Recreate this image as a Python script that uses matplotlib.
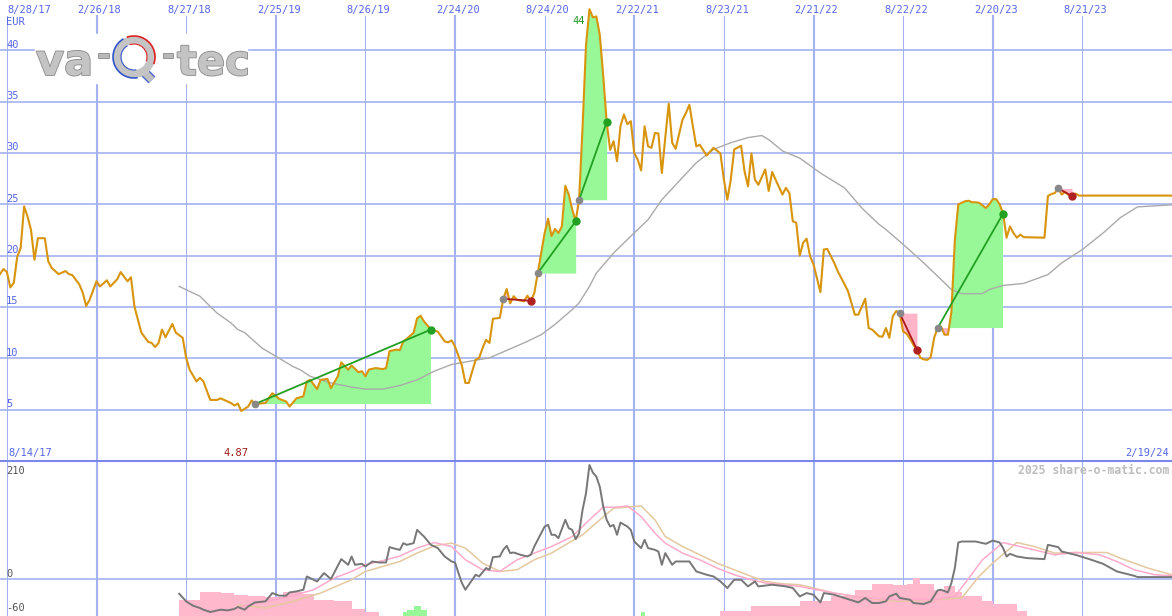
import numpy as np
import matplotlib
matplotlib.use('Agg')
import matplotlib.pyplot as plt
import matplotlib.dates as mdates
import matplotlib.patheffects as pe
from matplotlib import transforms
from matplotlib.patches import Rectangle, Wedge, Arc

# weekly data, week 0 = 2017-08-14
start = np.datetime64('2017-08-14')
end = np.datetime64('2024-02-19')

price_weeks = [0, 1, 2, 3, 4, 5, 6, 7, 8, 9, 10, 11, 13, 14, 15, 17, 19, 20, 21, 23, 24, 25, 26, 28, 29,
               31, 32, 34, 35, 37, 38, 39, 41, 43, 44, 45, 46, 47, 48, 50, 51, 53, 54, 55, 57, 58, 59,
               61, 63, 64, 67, 68, 69, 70, 72, 73, 74, 77, 79, 81, 83, 84, 86, 88, 89, 90, 92, 93, 95,
               96, 98, 99, 101, 102, 104, 105, 106, 107, 109, 111, 112, 113, 115, 116, 117, 118, 120,
               121, 122, 123, 125, 127, 129, 130, 131, 132, 134, 135, 136, 137, 138, 139, 140, 141, 142,
               143, 145, 146, 147, 148, 149, 150, 152, 153, 154, 155, 156, 158, 159, 160, 161, 162, 163,
               164, 165, 166, 167, 168, 169, 170, 171, 172, 173, 174, 175, 176, 177, 178, 179, 180, 181,
               182, 183, 184, 185, 186, 187, 188, 189, 190, 191, 192, 193, 194, 195, 196, 198, 199, 200,
               201, 202, 203, 205, 207, 209, 210, 211, 212, 213, 215, 216, 217, 218, 219, 220, 222, 223,
               224, 225, 227, 228, 229, 230, 231, 232, 233, 234, 235, 236, 238, 239, 240, 242, 243, 246,
               248, 249, 251, 252, 253, 255, 256, 257, 258, 259, 260, 261, 262, 263, 264, 265, 266, 267,
               268, 269, 270, 271, 272, 273, 274, 275, 276, 277, 278, 279, 280, 281, 282, 283, 284, 285,
               286, 287, 288, 289, 290, 291, 292, 293, 294, 295, 296, 297, 303, 304, 305, 306, 307, 308,
               309, 310, 311, 312, 313, 340]
price_eur = [18.2, 18.7, 18.4, 16.9, 17.35, 19.9, 20.75, 24.8, 23.8, 22.5, 19.6, 21.7, 21.7, 19.45, 18.8,
             18.2, 18.5, 18.2, 18.1, 17.2, 16.4, 15.1, 15.7, 17.5, 17.0, 17.6, 17.0, 17.7, 18.4, 17.5,
             17.9, 15.05, 12.5, 11.6, 11.5, 11.1, 11.5, 12.8, 12.05, 13.35, 12.5, 12.0, 10.05, 8.9, 7.75,
             8.1, 7.75, 5.95, 5.95, 6.1, 5.65, 5.4, 5.6, 4.87, 5.3, 5.9, 5.55, 5.65, 6.6, 6.05, 5.8, 5.3,
             6.1, 6.3, 7.75, 7.9, 7.0, 7.9, 8.0, 7.1, 8.25, 9.6, 8.9, 9.3, 8.65, 8.75, 8.25, 8.9, 9.05,
             8.95, 9.05, 10.7, 10.85, 10.8, 11.65, 11.9, 12.5, 13.9, 14.15, 13.6, 12.8, 12.6, 11.65,
             11.55, 11.75, 11.15, 9.3, 7.6, 7.6, 8.75, 9.85, 10.05, 11.0, 11.8, 11.5, 13.85, 13.95, 15.8,
             16.75, 15.35, 16.05, 15.7, 15.55, 16.1, 15.6, 16.35, 18.3, 22.2, 23.6, 21.9, 22.6, 22.2,
             22.85, 26.8, 25.95, 24.5, 23.35, 25.45, 32.5, 40.5, 44.0, 43.2, 43.3, 41.5, 37.5, 33.0, 30.3,
             31.15, 29.2, 32.6, 33.75, 32.8, 33.1, 30.0, 29.35, 28.3, 32.6, 30.65, 30.5, 31.95, 31.9,
             28.05, 31.5, 34.8, 31.0, 30.4, 33.25, 33.9, 34.7, 32.6, 30.65, 30.8, 29.75, 30.5, 29.95,
             27.4, 25.45, 27.4, 30.35, 30.7, 28.2, 26.75, 29.95, 27.4, 26.9, 28.4, 26.3, 28.15, 27.4,
             25.95, 26.6, 26.1, 23.35, 23.2, 20.0, 21.25, 21.65, 19.95, 19.15, 16.45, 20.6, 20.65, 19.3,
             18.5, 16.55, 14.25, 14.25, 15.8, 12.95, 12.8, 12.15, 12.1, 12.95, 12.0, 14.1, 14.6, 14.4,
             12.6, 12.4, 11.9, 11.3, 10.85, 10.05, 9.9, 9.85, 10.1, 12.0, 12.95, 13.1, 12.3, 12.3, 14.5,
             21.5, 25.0, 25.15, 25.3, 25.35, 25.2, 25.2, 25.15, 24.9, 24.65, 25.0, 25.5, 25.5, 25.0, 24.1,
             21.75, 22.85, 22.2, 21.75, 22.05, 21.8, 21.75, 25.8, 26.0, 26.1, 26.55, 25.95, 26.2, 25.9,
             25.8, 26.05, 25.85, 25.85]

ma_weeks = [52, 58, 61, 63, 67, 69, 71, 75, 76, 80, 85, 87, 90, 96, 102, 106, 111, 116, 121, 126, 131,
            136, 142, 152, 157, 161, 166, 168, 171, 173, 178, 183, 188, 192, 197, 202, 207, 212, 217,
            221, 223, 227, 232, 238, 245, 250, 252, 255, 257, 262, 267, 272, 276, 279, 285, 287, 291,
            297, 304, 308, 314, 320, 325, 330, 340]
ma_eur = [17.0, 16.05, 15.05, 14.4, 13.45, 12.8, 12.5, 11.3, 11.0, 10.2, 9.2, 8.9, 8.25, 7.6, 7.2, 7.0,
          7.0, 7.35, 7.9, 8.75, 9.4, 9.7, 10.05, 11.5, 12.3, 13.3, 14.75, 15.4, 17.0, 18.3, 20.25, 21.9,
          23.5, 25.45, 27.25, 29.05, 30.35, 31.0, 31.5, 31.7, 31.3, 30.2, 29.5, 28.05, 26.6, 24.65, 24.0,
          23.05, 22.55, 21.1, 19.6, 18.0, 16.7, 16.3, 16.3, 16.7, 17.1, 17.3, 18.15, 19.3, 20.6, 22.2,
          23.7, 24.75, 24.95]

# signals: start week, end week, direction
signals = [(74, 125, 'up'), (146, 154, 'down'), (156, 167, 'up'), (168, 176, 'up'),
           (261, 266, 'down'), (272, 291, 'up'), (307, 311, 'down')]

# lower panel
osc_weeks = [52, 54, 56, 58, 59, 61, 64, 66, 68, 69, 71, 72, 74, 77, 79, 81, 83, 84, 86, 88, 89, 92, 94,
             96, 99, 101, 102, 103, 105, 106, 108, 110, 112, 113, 115, 116, 117, 118, 120, 121, 123, 125,
             127, 129, 131, 132, 133, 134, 135, 137, 138, 139, 141, 142, 143, 145, 146, 147, 148, 149,
             151, 153, 154, 155, 156, 158, 159, 160, 161, 162, 164, 165, 166, 167, 168, 169, 170, 171,
             172, 173, 174, 175, 176, 177, 178, 179, 180, 182, 183, 184, 185, 186, 187, 188, 190, 191,
             192, 193, 195, 196, 200, 202, 205, 207, 209, 211, 213, 215, 217, 219, 220, 224, 228, 230,
             232, 234, 236, 238, 239, 242, 245, 248, 249, 251, 253, 255, 257, 258, 260, 261, 264, 265,
             268, 270, 272, 273, 275, 276, 277, 278, 279, 283, 286, 288, 290, 291, 292, 293, 295, 298,
             303, 304, 307, 308, 312, 316, 320, 324, 329, 330, 340]
osc_vals = [-25.9, -39.5, -47.2, -51.3, -54.3, -58.4, -54.3, -55.5, -53, -49.5, -54.3, -48.4, -41.3,
            -39.5, -24.7, -29.4, -29.4, -23.6, -21.8, -18.8, 4.8, -4.1, 10.8, 0.2, 35.6, 25.5, 40.3, 25.5,
            27.3, 22.5, 31.4, 29.6, 29.6, 56.9, 53.4, 52.1, 64, 61, 64, 87.6, 75.7, 61, 55.2, 40.3, 31.4,
            29.6, 10.8, -6.9, -18.8, -1.1, 7.8, 4.8, 19.7, 16.7, 39.2, 40.3, 52.1, 59.2, 46.3, 47.4, 43.3,
            40.3, 43.3, 58, 69.9, 93.5, 96.5, 78.8, 78.8, 72.9, 105.4, 90.6, 87.6, 71.1, 81.8, 123.1,
            152.7, 202.9, 189.3, 182.2, 164.4, 129, 105.4, 93.5, 96.5, 78.8, 100.6, 93.5, 87.6, 66.9, 61,
            55.2, 69.9, 55.2, 52.1, 49.1, 25.5, 46.3, 25.5, 31.4, 31.4, 13.7, 7.8, 4.8, -4.1, -15.8,
            -1.1, -1.1, -12.9, -4.1, -12.9, -9.9, -12.9, -15.8, -30.7, -24.7, -27.7, -41.3, -24.7, -27.7,
            -33.5, -39.5, -41.3, -33.5, -42.4, -42.4, -39.5, -30.7, -25.9, -33.5, -36.5, -42.4, -44.2,
            -39.5, -20, -18.8, -23.6, -6.9, 19.7, 65.1, 66.9, 66.9, 62.8, 68.6, 65.1, 55.2, 40.3, 45,
            40.3, 37.4, 35.6, 61, 56.9, 49.1, 43.3, 35.6, 27.3, 13.7, 6, 3.7, 3.7]

fast_weeks = [69, 84, 91, 97, 102, 106, 112, 116, 121, 126, 131, 135, 140, 145, 150, 155, 160, 166, 171,
              175, 179, 182, 186, 190, 193, 198, 203, 208, 213, 218, 222, 227, 232, 242, 251, 261, 271,
              277, 280, 285, 291, 295, 300, 306, 312, 319, 324, 329, 335, 340]
fast_vals = [-50, -30.7, -18.8, 2.0, 13.7, 25.5, 34.4, 41, 55.2, 65.1, 58, 34.4, 16.7, 13.7, 34.4, 46.3,
             58, 75.7, 105.4, 127.9, 127.9, 130.2, 111.2, 81.8, 64, 46.3, 34.4, 19.7, 7.8, -1.1, -6.9,
             -9.9, -13, -24.7, -33.5, -36.5, -36.5, -30.7, -6.9, 34.4, 65.1, 59.2, 52.1, 43.3, 47.4,
             43.3, 31.4, 16.7, 7.8, 6]

slow_weeks = [69, 77, 85, 93, 102, 106, 111, 116, 121, 126, 131, 135, 140, 145, 150, 155, 160, 164, 169,
              174, 178, 182, 186, 190, 193, 198, 203, 208, 213, 218, 222, 227, 232, 242, 251, 261, 271,
              279, 284, 288, 295, 300, 306, 312, 321, 325, 333, 340]
slow_vals = [-45.4, -51.3, -39.5, -24.7, -1.0, 13.7, 22.5, 31.4, 46.3, 59.2, 64, 55.2, 28.6, 13.7, 16.7,
             34.4, 46.3, 61, 78.8, 105.4, 126.1, 127.9, 130.2, 105.4, 75.7, 58, 43.3, 28.6, 16.7, 4.8,
             -4.1, -8.2, -9.9, -24.7, -33.5, -39.5, -36.5, -33.5, 4.8, 28.6, 65.1, 58, 46.3, 47.4, 47.4,
             37.4, 19.7, 7.8]

neg_bar_weeks = [52, 58, 64, 68, 72, 77, 82, 88, 91, 97, 102, 106, 110]
neg_bar_vals = [-36.5, -23.6, -24, -28, -30.7, -31.5, -23.6, -26, -36.5, -39.5, -53, -58, -58]
neg_bar2_weeks = [209, 218, 232, 241, 248, 253, 259, 263, 265, 267, 271, 274, 277, 279, 285, 288, 295, 298]
neg_bar2_vals = [-57, -47, -39.5, -30.7, -18.8, -8.2, -11, -8.2, 2.5, -8.2, -18.8, -12, -23.6, -30.7,
                 -39.5, -45, -57, -57]
pos_bar_weeks = [117, 118, 120, 122, 124]
pos_bar_vals = [-59, -54, -48, -54, -54]
pos_bar2_weeks = [186, 187]
pos_bar2_vals = [-59, -59]

grid_dates = ['2017-08-28', '2018-02-26', '2018-08-27', '2019-02-25', '2019-08-26', '2020-02-24',
              '2020-08-24', '2021-02-22', '2021-08-23', '2022-02-21', '2022-08-22', '2023-02-20',
              '2023-08-21']
grid_labels = ['8/28/17', '2/26/18', '8/27/18', '2/25/19', '8/26/19', '2/24/20', '8/24/20', '2/22/21',
               '8/23/21', '2/21/22', '8/22/22', '2/20/23', '8/21/23']
price_ticks = [5, 10, 15, 20, 25, 30, 35, 40]


def wk(w):
    return mdates.date2num(start + np.array(w) * np.timedelta64(7, 'D'))


grid_c = '#a4b2f4'
blue_txt = '#5566ee'
mono = 'DejaVu Sans Mono'
fs = 7.5

fig = plt.figure(figsize=(11.72, 6.16), dpi=100)
fig.patch.set_facecolor('white')
ax1 = fig.add_axes([0, 155 / 616, 1, 461 / 616])
ax2 = fig.add_axes([0, 0, 1, 155 / 616])
ov = fig.add_axes([0, 0, 1, 1], zorder=5)
ov.set_xlim(0, 1172)
ov.set_ylim(616, 0)
ov.axis('off')

x0, x1 = mdates.date2num(start), mdates.date2num(end)
for ax in (ax1, ax2):
    ax.set_xlim(x0, x1)
    ax.axis('off')
ax1.set_ylim(0, 44.9)
ax2.set_ylim(-65.5, 210)

# grid
for d in grid_dates:
    xd = mdates.date2num(np.datetime64(d))
    lw = 1.5 if d[5:7] == '02' else 0.75
    ax1.axvline(xd, ymin=0, ymax=(461 - 16) / 461, color=grid_c, lw=lw, zorder=0)
    ax2.axvline(xd, color=grid_c, lw=lw, zorder=0)
for p in price_ticks:
    ax1.axhline(p, color=grid_c, lw=1.2, zorder=0)
ax2.axhline(0, color=grid_c, lw=1.2, zorder=0)
ov.axhline(461, color='#7888ec', lw=1.5, zorder=0)

# price panel
px = wk(price_weeks)
pv = np.array(price_eur)
pw = np.array(price_weeks)
ax1.plot(wk(ma_weeks), ma_eur, color='#aaaaaa', lw=1.0, zorder=2)

for s, e, kind in signals:
    m = (pw >= s) & (pw <= e)
    x = px[m]
    y = pv[m]
    base = y[0]
    if kind == 'up':
        ax1.fill_between(x, base, y, where=y >= base, interpolate=True, color='#98f898', lw=0, zorder=1)
        ax1.fill_between(x, base, y, where=y <= base, interpolate=True, color='#ffb4c8', lw=0, zorder=1)
        lc, dc = '#22a022', '#22a022'
    else:
        ax1.fill_between(x, base, y, color='#ffb4c8', lw=0, zorder=1)
        lc, dc = '#aa1c1c', '#b02020'
    ax1.plot([x[0], x[-1]], [base, y[-1]], color=lc, lw=1.3, zorder=4)
    ax1.plot(x[0], base, 'o', color='#888888', ms=4.5, zorder=5)
    ax1.plot(x[-1], y[-1], 'o', color=dc, ms=5, zorder=5)

ax1.plot(px, pv, color='#d8940c', lw=1.5, zorder=3)

# lower panel
ax2.fill_between(wk(neg_bar_weeks), -65.5, neg_bar_vals, step='post', color='#ffb8cc', lw=0, zorder=1)
ax2.fill_between(wk(neg_bar2_weeks), -65.5, neg_bar2_vals, step='post', color='#ffb8cc', lw=0, zorder=1)
ax2.fill_between(wk(pos_bar_weeks), -65.5, pos_bar_vals, step='post', color='#98f898', lw=0, zorder=1)
ax2.fill_between(wk(pos_bar2_weeks), -65.5, pos_bar2_vals, step='post', color='#98f898', lw=0, zorder=1)
ax2.plot(wk(slow_weeks), slow_vals, color='#e4c8a0', lw=1.1, zorder=2)
ax2.plot(wk(fast_weeks), fast_vals, color='#ffaacc', lw=1.1, zorder=2)
ax2.plot(wk(osc_weeks), osc_vals, color='#777777', lw=1.4, zorder=3)

# labels
tx = transforms.blended_transform_factory(ax1.transData, ov.transData)
for i, (d, lab) in enumerate(zip(grid_dates, grid_labels)):
    xd = mdates.date2num(np.datetime64(d))
    if i == 0:
        ax1.annotate(lab, (xd, 10), xycoords=tx, xytext=(0, 0), textcoords='offset pixels',
                     ha='left', va='center', color=blue_txt, fontsize=fs, family=mono)
    else:
        ax1.annotate(lab, (xd, 10), xycoords=tx, xytext=(3, 0), textcoords='offset pixels',
                     ha='center', va='center', color=blue_txt, fontsize=fs, family=mono)

ty = transforms.blended_transform_factory(ov.transData, ax1.transData)
for p in price_ticks:
    ax1.text(6, p + 0.55, str(p), transform=ty, ha='left', va='center', color=blue_txt,
             fontsize=fs, family=mono)
ov.text(6, 22, 'EUR', ha='left', va='center', color=blue_txt, fontsize=fs, family=mono)
ov.text(8, 453, '8/14/17', ha='left', va='center', color=blue_txt, fontsize=fs, family=mono)
ov.text(1169, 453, '2/19/24', ha='right', va='center', color=blue_txt, fontsize=fs, family=mono)

i_lo = int(np.argmin(pv))
i_hi = int(np.argmax(pv))
ax1.annotate(f'{pv[i_lo]:.2f}', (px[i_lo], 453), xycoords=tx, xytext=(-5, 0),
             textcoords='offset pixels', ha='center', va='center', color='#a01818',
             fontsize=fs, family=mono)
ax1.annotate(f'{pv[i_hi]:.0f}', (px[i_hi], 21), xycoords=tx, xytext=(-5, 0),
             textcoords='offset pixels', ha='right', va='center', color='#229922',
             fontsize=fs, family=mono)

for txt, yy in (('210', 471), ('0', 574), ('-60', 608)):
    ov.text(6, yy, txt, ha='left', va='center', color='#555555', fontsize=fs, family=mono)
ov.text(1169, 471, '2025 share-o-matic.com', ha='right', va='center', color='#bdbdbd',
        fontsize=8.3, fontweight='bold', family=mono)

# logo
ov.add_patch(Rectangle((35, 34), 212, 49, color='white', zorder=1))
logo_fx = [pe.withStroke(linewidth=1.3, foreground='#909090')]
ov.text(36, 75, 'va', fontsize=31, fontweight='bold', color='#c4c4c4', ha='left', va='baseline',
        path_effects=logo_fx, zorder=2)
ov.text(177, 75, 'tec', fontsize=30, fontweight='bold', color='#c4c4c4', ha='left', va='baseline',
        path_effects=logo_fx, zorder=2)
ov.add_patch(Rectangle((98, 53), 11, 5, fc='#b8b8b8', ec='#8a8a8a', lw=0.6, zorder=2))
ov.add_patch(Rectangle((163, 53), 10, 5, fc='#b8b8b8', ec='#8a8a8a', lw=0.6, zorder=2))
ov.plot([142, 152], [70, 80], color='#4466cc', lw=7, solid_capstyle='butt', zorder=2)
ov.plot([142, 152], [70, 80], color='#c0c0c0', lw=5, solid_capstyle='butt', zorder=2)
ov.add_patch(Wedge((134, 57), 21, 0, 360, width=8, fc='#c4c4c4', ec='none', zorder=3))
ov.add_patch(Arc((134, 57), 42, 42, theta1=250, theta2=380, color='#dd2222', lw=1.2, zorder=4))
ov.add_patch(Arc((134, 57), 42, 42, theta1=80, theta2=240, color='#3355cc', lw=1.2, zorder=4))
ov.add_patch(Arc((134, 57), 26, 26, theta1=250, theta2=380, color='#dd2222', lw=0.8, zorder=4))
ov.add_patch(Arc((134, 57), 26, 26, theta1=80, theta2=240, color='#3355cc', lw=0.8, zorder=4))

fig.savefig('out.png', dpi=100, facecolor='white')
